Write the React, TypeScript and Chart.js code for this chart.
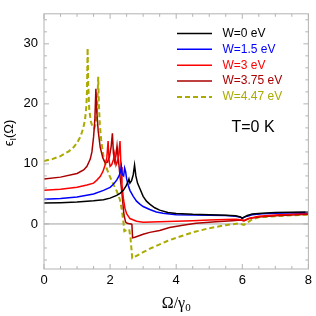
import React, { useEffect, useRef } from "react";
import { Chart, registerables } from "chart.js";

Chart.register(...registerables);

// ---- tick values ----
const X_TICKS = [0, 2, 4, 6, 8];
const X_MINOR = [0.5, 1, 1.5, 2.5, 3, 3.5, 4.5, 5, 5.5, 6.5, 7, 7.5];
const Y_TICKS = [0, 10, 20, 30];
const Y_MINOR = [-6, -4, -2, 2, 4, 6, 8, 12, 14, 16, 18, 22, 24, 26, 28, 32, 34];

// ---- series labels ----
const SERIES_LABELS = ["W=0 eV", "W=1.5 eV", "W=3 eV", "W=3.75 eV", "W=4.47 eV"];

// ---- W = 0 eV ----
const X_W0 = [0, 0.5, 1, 1.5, 1.8, 2.0, 2.2, 2.3, 2.4, 2.48, 2.54, 2.57, 2.6, 2.65, 2.7, 2.74, 2.78, 2.83, 2.9, 3.0, 3.1, 3.2, 3.35, 3.5, 3.75, 4, 4.5, 5, 5.5, 5.8, 5.95, 6.0, 6.05, 6.15, 6.3, 6.6, 7, 7.5, 8];
const Y_W0 = [3.5, 3.55, 3.65, 3.85, 4.05, 4.3, 4.75, 5.1, 5.6, 6.3, 7.0, 7.5, 6.8, 7.2, 8.2, 9.8, 8.0, 6.8, 5.9, 4.6, 3.8, 3.3, 2.7, 2.3, 1.9, 1.75, 1.6, 1.55, 1.45, 1.35, 1.15, 0.95, 1.15, 1.4, 1.65, 1.8, 1.9, 1.95, 2.0];

// ---- W = 1.5 eV ----
const X_W15 = [0, 0.5, 1, 1.5, 1.8, 2.0, 2.1, 2.2, 2.27, 2.31, 2.34, 2.37, 2.41, 2.44, 2.47, 2.5, 2.55, 2.6, 2.7, 2.8, 2.9, 3.0, 3.2, 3.4, 3.6, 3.8, 4, 4.5, 5, 5.5, 5.8, 5.95, 6.0, 6.05, 6.15, 6.3, 6.6, 7, 7.5, 8];
const Y_W15 = [4.1, 4.25, 4.5, 5.0, 5.6, 6.1, 6.6, 7.3, 8.0, 8.6, 9.6, 8.2, 8.0, 9.3, 8.7, 7.5, 6.4, 5.6, 4.6, 3.8, 3.3, 2.9, 2.4, 2.0, 1.8, 1.65, 1.55, 1.5, 1.45, 1.4, 1.3, 1.1, 0.95, 1.1, 1.3, 1.55, 1.7, 1.8, 1.85, 1.9];

// ---- W = 3 eV ----
const X_W3 = [0, 0.5, 1, 1.3, 1.5, 1.6, 1.7, 1.78, 1.85, 1.9, 1.94, 1.97, 2.0, 2.05, 2.1, 2.14, 2.18, 2.22, 2.26, 2.3, 2.33, 2.36, 2.4, 2.45, 2.5, 2.6, 2.8, 3.0, 3.5, 4, 4.5, 5, 5.5, 5.8, 5.95, 6.05, 6.2, 6.5, 7, 7.5, 8];
const Y_W3 = [5.6, 5.8, 6.1, 6.5, 6.8, 7.3, 7.9, 8.7, 9.8, 11, 13.8, 10.5, 9.6, 9.9, 10.7, 11.8, 9.8, 10.3, 11.5, 13.8, 9.5, 6.5, 4.3, 2.6, 1.7, 0.9, 0.45, 0.3, 0.35, 0.45, 0.55, 0.65, 0.75, 0.8, 0.7, 0.6, 0.9, 1.3, 1.5, 1.65, 1.75];

// ---- W = 3.75 eV ----
const X_W375 = [0, 0.5, 1, 1.2, 1.3, 1.4, 1.45, 1.5, 1.54, 1.57, 1.6, 1.64, 1.7, 1.78, 1.85, 1.92, 1.98, 2.03, 2.07, 2.1, 2.14, 2.18, 2.21, 2.25, 2.3, 2.36, 2.42, 2.47, 2.52, 2.58, 2.64, 2.66, 2.68, 2.75, 3.0, 3.2, 3.5, 3.8, 4.2, 4.6, 5.2, 5.7, 5.95, 6.05, 6.2, 6.5, 7, 7.5, 8];
const Y_W375 = [7.5, 7.8, 8.4, 9.0, 9.6, 10.8, 12.0, 14.5, 17.5, 22.5, 18.5, 15.5, 12.8, 11.0, 10.2, 10.3, 11.2, 12.8, 15.1, 11.8, 10.4, 11.5, 13, 10.8, 8.0, 5.0, 1.5, 0.3, 0.1, 0.05, 0, -0.1, -2.3, -2.2, -1.7, -1.4, -1.1, -0.6, -0.2, 0.1, 0.35, 0.55, 0.65, 0.5, 0.9, 1.15, 1.35, 1.5, 1.6];

// ---- W = 4.47 eV ----
const X_W447 = [0, 0.25, 0.5, 0.75, 0.9, 1.0, 1.1, 1.18, 1.24, 1.28, 1.3, 1.32, 1.34, 1.37, 1.42, 1.47, 1.52, 1.56, 1.6, 1.62, 1.64, 1.66, 1.69, 1.73, 1.8, 1.9, 2.0, 2.1, 2.2, 2.3, 2.35, 2.4, 2.43, 2.5, 2.58, 2.62, 2.67, 2.8, 3.0, 3.25, 3.5, 3.75, 4, 4.5, 5, 5.5, 5.9, 6.05, 6.15, 6.3, 6.5, 7, 7.5, 8];
const Y_W447 = [10.5, 10.8, 11.3, 12.1, 12.8, 13.5, 14.5, 15.8, 17.3, 19.5, 22, 29.3, 23, 19, 17, 16.2, 15.9, 16.5, 18.5, 21, 24.5, 20, 16.5, 14, 11.2, 9.2, 7.8, 6.6, 5.5, 4.0, 2.5, 0.5, -1.2, -1.0, -0.9, -2.5, -5.7, -5.3, -4.7, -4.0, -3.4, -2.8, -2.3, -1.4, -0.7, -0.2, 0.1, -0.15, 0.2, 0.8, 1.1, 1.3, 1.45, 1.55];

// ---- styles ----
const COLORS = ["#000000", "#0000ff", "#ff0000", "#aa0000", "#aaaa00"];
const FRAME_COLOR = "#b3b3b3";
const SANS = "'Liberation Sans', Arial, 'DejaVu Sans', sans-serif";
const SERIF = "'Liberation Serif', 'DejaVu Serif', serif";

const toPoints = (xs: number[], ys: number[]) => xs.map((x, i) => ({ x, y: ys[i] }));

const SERIES = [
  toPoints(X_W0, Y_W0),
  toPoints(X_W15, Y_W15),
  toPoints(X_W3, Y_W3),
  toPoints(X_W375, Y_W375),
  toPoints(X_W447, Y_W447),
];

const decorPlugin = {
  id: "decor",
  beforeDatasetsDraw(chart: any) {
    const { ctx, chartArea: a, scales } = chart;
    const y0 = scales.y.getPixelForValue(0);
    ctx.save();
    ctx.strokeStyle = "#a0a0a0";
    ctx.lineWidth = 1;
    ctx.beginPath();
    ctx.moveTo(a.left, y0);
    ctx.lineTo(a.right, y0);
    ctx.stroke();
    ctx.restore();
  },
  afterDraw(chart: any) {
    const { ctx, chartArea: a, scales } = chart;
    const xs = scales.x;
    const ys = scales.y;
    ctx.save();
    // frame
    ctx.strokeStyle = FRAME_COLOR;
    ctx.lineWidth = 1;
    ctx.strokeRect(a.left, a.top, a.right - a.left, a.bottom - a.top);
    // ticks
    const tick = (x1: number, y1: number, x2: number, y2: number) => {
      ctx.beginPath();
      ctx.moveTo(x1, y1);
      ctx.lineTo(x2, y2);
      ctx.stroke();
    };
    const xt = (vals: number[], len: number) =>
      vals.forEach((v) => {
        const p = xs.getPixelForValue(v);
        tick(p, a.bottom, p, a.bottom - len);
        tick(p, a.top, p, a.top + len);
      });
    const yt = (vals: number[], len: number) =>
      vals.forEach((v) => {
        const p = ys.getPixelForValue(v);
        tick(a.left, p, a.left + len, p);
        tick(a.right, p, a.right - len, p);
      });
    xt(X_TICKS, 5);
    xt(X_MINOR, 3);
    yt(Y_TICKS, 5);
    yt(Y_MINOR, 3);

    // legend
    const ds = chart.data.datasets;
    ds.forEach((d: any, i: number) => {
      const y = 33.5 + i * 15.85;
      ctx.strokeStyle = d.borderColor;
      ctx.lineWidth = d.borderWidth;
      ctx.setLineDash(d.borderDash || []);
      tick(177, y, 212, y);
      ctx.setLineDash([]);
      ctx.fillStyle = d.borderColor;
      ctx.font = `12px ${SANS}`;
      ctx.textAlign = "left";
      ctx.textBaseline = "middle";
      ctx.fillText(d.label, 222.5, y);
    });

    // annotation
    ctx.fillStyle = "#000";
    ctx.font = `16px ${SANS}`;
    ctx.textBaseline = "middle";
    ctx.fillText("T=0 K", 231.5, 128);

    // x axis title: Ω/γ0
    ctx.textBaseline = "alphabetic";
    ctx.font = `16px ${SERIF}`;
    const main = "Ω/γ";
    const wMain = ctx.measureText(main).width;
    ctx.font = `11px ${SERIF}`;
    const wSub = ctx.measureText("0").width;
    const cx = (a.left + a.right) / 2;
    const sx = cx - (wMain + wSub) / 2;
    ctx.font = `16px ${SERIF}`;
    ctx.fillText(main, sx, 308);
    ctx.font = `11px ${SERIF}`;
    ctx.fillText("0", sx + wMain, 311);

    // y axis title: ϵI(Ω)
    ctx.translate(13, 133);
    ctx.rotate(-Math.PI / 2);
    const parts: [string, string, number][] = [
      ["ϵ", `13px ${SANS}`, 0],
      ["I", `9px ${SANS}`, 3],
      ["(Ω)", `13px ${SANS}`, 0],
    ];
    let total = 0;
    parts.forEach(([t, f]) => {
      ctx.font = f;
      total += ctx.measureText(t).width;
    });
    let px = -total / 2;
    parts.forEach(([t, f, dy]) => {
      ctx.font = f;
      ctx.fillText(t, px, dy);
      px += ctx.measureText(t).width;
    });
    ctx.restore();
  },
};

export default function App() {
  const ref = useRef<HTMLCanvasElement | null>(null);
  useEffect(() => {
    if (!ref.current) return;
    const chart = new Chart(ref.current, {
      type: "line",
      data: {
        datasets: SERIES.map((pts, i) => ({
          label: SERIES_LABELS[i],
          data: pts,
          borderColor: COLORS[i],
          backgroundColor: COLORS[i],
          borderWidth: i === 4 ? 2 : 1.5,
          borderDash: i === 4 ? [5, 3] : [],
          pointRadius: 0,
          tension: 0,
          fill: false,
        })),
      },
      options: {
        responsive: false,
        animation: false,
        layout: { padding: { left: 0, right: 4, top: 1.5, bottom: 0 } },
        plugins: { legend: { display: false }, tooltip: { enabled: false } },
        scales: {
          x: {
            type: "linear",
            min: 0,
            max: 8,
            grid: { display: false, drawTicks: false },
            border: { display: false },
            afterBuildTicks: (s: any) => {
              s.ticks = X_TICKS.map((v) => ({ value: v }));
            },
            afterFit: (s: any) => {
              s.height = 47;
            },
            ticks: {
              padding: 4,
              maxRotation: 0,
              autoSkip: false,
              color: "#000",
              font: { family: SANS, size: 13 },
              callback: (v: any) => String(v),
            },
          },
          y: {
            type: "linear",
            min: -7.5,
            max: 35,
            grid: { display: false, drawTicks: false },
            border: { display: false },
            afterBuildTicks: (s: any) => {
              s.ticks = Y_TICKS.map((v) => ({ value: v }));
            },
            afterFit: (s: any) => {
              s.width = 44;
            },
            ticks: {
              padding: 6,
              autoSkip: false,
              color: "#000",
              font: { family: SANS, size: 13 },
              callback: (v: any) => String(v),
            },
          },
        },
      },
      plugins: [decorPlugin],
    });
    return () => chart.destroy();
  }, []);
  return (
    <div style={{ position: "fixed", left: 0, top: 0, width: 316, height: 316, background: "#fff" }}>
      <canvas ref={ref} width={316} height={316} style={{ display: "block", width: 316, height: 316 }} />
    </div>
  );
}
